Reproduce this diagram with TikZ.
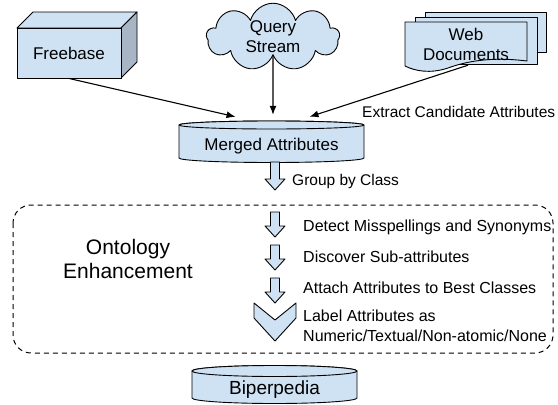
\documentclass[tikz,border=0pt]{standalone}
\usepackage{fontspec}
\setmainfont{Liberation Sans}
\usetikzlibrary{shapes.symbols,calc,arrows.meta}
\definecolor{paleblue}{HTML}{CFE2F3}
\definecolor{sideblue}{HTML}{A7B5C4}
\begin{document}
\begin{tikzpicture}[x=1pt,y=-1pt,
  outline/.style={draw=black,line width=0.9pt,line join=round},
  shade/.style={outline,fill=paleblue},
  bigtext/.style={font=\fontsize{17}{20}\selectfont},
  steptext/.style={font=\fontsize{16}{20}\selectfont,anchor=west,inner sep=0pt},
  link/.style={line width=1.1pt,-{Latex[length=9pt,width=7pt]}},
  downarrow/.pic={\path[shade] (-4.5,0) -- (4.5,0) -- (4.5,#1-11) -- (10,#1-11) -- (0,#1) -- (-10,#1-11) -- (-4.5,#1-11) -- cycle;}]
\useasboundingbox (0,0) rectangle (558,405);

% Freebase: a box with top and side faces
\path[shade] (17,28) -- (33,12) -- (137,12) -- (121,28) -- cycle;
\path[outline,fill=sideblue] (121,28) -- (137,12) -- (137,62) -- (121,78) -- cycle;
\node[shade,bigtext,minimum width=104,minimum height=50,inner sep=0] (freebase) at (69,53) {Freebase};

% Query stream cloud
\node[cloud,cloud puffs=9,aspect=2.1,shade,bigtext,align=center,minimum width=133,minimum height=62,inner sep=0] (query) at (273,37) {Query\\Stream};

% Stack of web documents
\path[shade] (425,12) -- (546,12) -- (546,52) -- (425,52) -- cycle;
\path[shade] (415,17) -- (537,17) -- (537,64) -- (415,64) -- cycle;
\path[shade] (405,22) -- (527,22) -- (527,61) .. controls (495,57) and (470,60) .. (448,68) .. controls (430,74) and (415,71) .. (405,66) -- cycle;
\node[bigtext,align=center,inner sep=0,minimum width=122,minimum height=44] (webdocs) at (466,44) {Web\\Documents};

% Merged attributes drum
\path[shade] (179,125) -- (179,158) arc[start angle=180,end angle=360,x radius=92.5pt,y radius=4.5pt] -- (364,125) arc[start angle=0,end angle=180,x radius=92.5pt,y radius=4pt] -- cycle;
\path[shade] (271.5,125) ellipse[x radius=92.5pt,y radius=4pt];
\node[bigtext,inner sep=0,minimum width=185,minimum height=50] (merged) at (271.5,146) {Merged Attributes};

% Sources feeding the merged attributes
\draw[link] (freebase.south) -- ($(merged.north)+(-36,-4)$);
\draw[link] (query.south) -- ($(merged.north)+(1.5,-6)$);
\draw[link] ($(webdocs.south)+(2,-1)$) -- ($(merged.north)+(38,-4)$);
\node[steptext,font=\fontsize{15.5}{20}\selectfont] at (362,112) {Extract Candidate Attributes};

% Grouping step
\pic at (275,162) {downarrow=28};
\node[steptext,font=\fontsize{15.5}{20}\selectfont] at (292,181) {Group by Class};

% Ontology enhancement stage
\draw[line width=1pt,dash pattern=on 5pt off 4pt,rounded corners=18pt] (13,205) rectangle (553,353);
\node[font=\fontsize{21}{24}\selectfont,align=center] (onto) at (128,259) {Ontology\\Enhancement};

\pic at (275,212) {downarrow=25};
\node[steptext] at (303,227) {Detect Misspellings and Synonyms};
\pic at (275,245) {downarrow=25};
\node[steptext] at (303,257) {Discover Sub-attributes};
\pic at (275,278) {downarrow=25};
\node[steptext] at (303,288) {Attach Attributes to Best Classes};
\path[shade] (254,303) -- (275,320) -- (296,303) -- (296,318) -- (275,341) -- (254,318) -- cycle;
\node[steptext,align=left] at (303,326) {Label Attributes as\\Numeric/Textual/Non-atomic/None};

% Biperpedia drum
\path[shade] (192,371) -- (192,398) arc[start angle=180,end angle=360,x radius=82.5pt,y radius=5.5pt] -- (357,371) arc[start angle=0,end angle=180,x radius=82.5pt,y radius=5.5pt] -- cycle;
\path[shade] (274.5,371) ellipse[x radius=82.5pt,y radius=5.5pt];
\node[font=\fontsize{19}{22}\selectfont] (biperpedia) at (274.5,390) {Biperpedia};
\end{tikzpicture}
\end{document}
